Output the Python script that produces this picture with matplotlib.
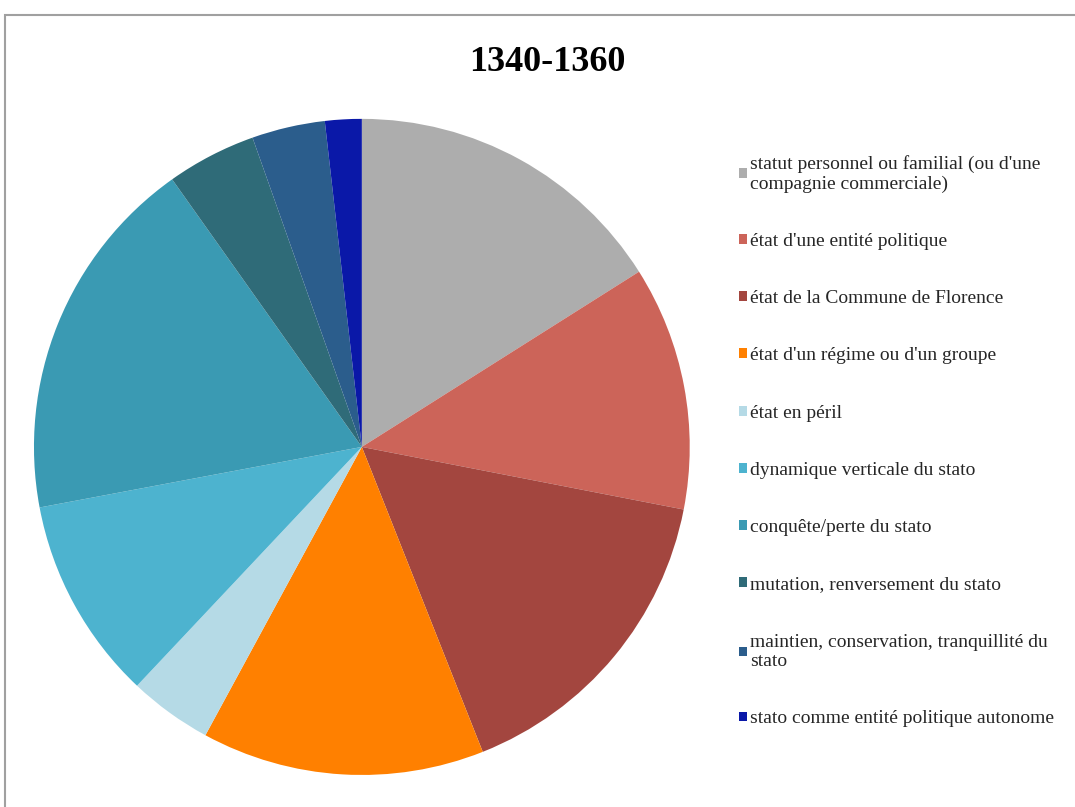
import matplotlib
matplotlib.use("Agg")
import matplotlib.pyplot as plt
from matplotlib.patches import Rectangle

# Données (parts en %)
categories = [
    "statut personnel ou familial (ou d'une\ncompagnie commerciale)",
    "état d'une entité politique",
    "état de la Commune de Florence",
    "état d'un régime ou d'un groupe",
    "état en péril",
    "dynamique verticale du stato",
    "conquête/perte du stato",
    "mutation, renversement du stato",
    "maintien, conservation, tranquillité du\nstato",
    "stato comme entité politique autonome",
]
values = [16.0, 12.0, 15.9, 13.9, 4.1, 10.0, 18.1, 4.4, 3.6, 1.8]
colors = ['#adadad', '#cc6459', '#a3463f', '#ff8000', '#b5dae6',
          '#4db3cf', '#3a9ab3', '#2f6b78', '#2b5d8c', '#0a18a8']
title = "1340-1360"

plt.rcParams['font.family'] = ['Liberation Serif', 'DejaVu Serif']

fig = plt.figure(figsize=(10.75, 8.07), dpi=100)

# cadre gris autour du graphique
fig.add_artist(Rectangle((0.005, -0.05), 1.1, 1.031, transform=fig.transFigure,
                         fill=False, edgecolor='#a0a0a0', linewidth=1.5))

ax = fig.add_axes([0.0316, 0.0397, 0.610, 0.813])
wedges, _ = ax.pie(values, colors=colors, startangle=90, counterclock=False,
                   radius=1.0, wedgeprops={'linewidth': 0})
ax.set_xlim(-1, 1)
ax.set_ylim(-1, 1)
ax.set_aspect('auto')

fig.text(0.509, 0.922, title, ha='center', va='center', fontsize=26,
         fontweight='bold')

leg = fig.legend(wedges, categories, loc='upper left',
                 bbox_to_anchor=(0.671, 0.83), frameon=False, fontsize=14,
                 handlelength=0.4, handleheight=0.4, handletextpad=0.2,
                 labelspacing=2.07, labelcolor='#262626')
for t in leg.get_texts():
    t.set_linespacing(1.2)

fig.savefig("out.png", dpi=100)
